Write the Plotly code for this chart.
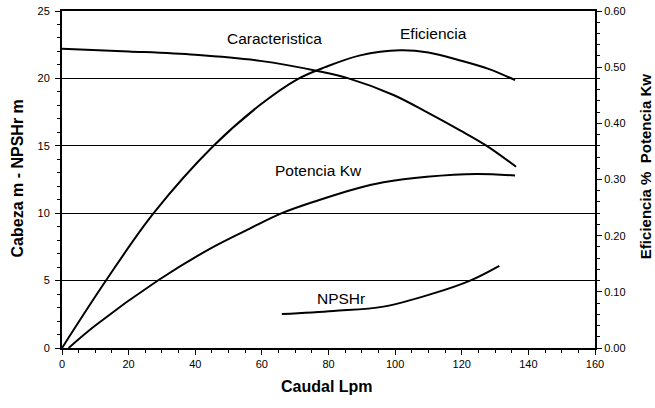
import plotly.graph_objects as go

# Data
caudal_head = [0, 20, 40, 59.5, 76.7, 86, 99.5, 109.5, 119.5, 127.5, 136.3]
cabeza = [22.2, 22.0, 21.75, 21.3, 20.55, 20.0, 18.77, 17.5, 16.15, 15.0, 13.45]

caudal_eff = [0, 13.3, 27.5, 45.5, 59.5, 70.5, 79, 89.5, 101.5, 110, 119.5, 128, 136]
eficiencia = [0, 0.121, 0.24, 0.36, 0.433, 0.478, 0.5, 0.521, 0.530, 0.526, 0.512, 0.497, 0.477]

caudal_pot = [2, 10, 29, 44.5, 56.5, 66, 77, 88.5, 96.5, 109.5, 124.5, 136]
potencia = [0, 0.04, 0.121, 0.177, 0.213, 0.24, 0.263, 0.284, 0.295, 0.305, 0.310, 0.307]

caudal_npsh = [66, 81.5, 96.5, 111.5, 122.5, 131.3]
npshr = [2.52, 2.75, 3.07, 4.05, 5.0, 6.1]

labels = ["Caracteristica", "Eficiencia", "Potencia Kw", "NPSHr"]
label_x = [63.7, 111.4, 76.9, 83.7]
label_y = [22.96, 23.3, 13.2, 3.68]

FONT = "Liberation Sans, Arial, sans-serif"
line = dict(color="black", width=2, shape="spline", smoothing=1)

fig = go.Figure()
fig.add_trace(go.Scatter(x=caudal_head, y=cabeza, mode="lines", line=line, hoverinfo="skip"))
fig.add_trace(go.Scatter(x=caudal_npsh, y=npshr, mode="lines", line=line, hoverinfo="skip"))
fig.add_trace(go.Scatter(x=caudal_eff, y=eficiencia, mode="lines", line=line, yaxis="y2", hoverinfo="skip"))
fig.add_trace(go.Scatter(x=caudal_pot, y=potencia, mode="lines", line=line, yaxis="y2", hoverinfo="skip"))

for t, x, y in zip(labels, label_x, label_y):
    fig.add_annotation(x=x, y=y, xref="x", yref="y", text=t, showarrow=False,
                       font=dict(family=FONT, size=15.5, color="black"))

# Axis titles
fig.add_annotation(x=0.497, y=-0.113, xref="paper", yref="paper", text="<b>Caudal Lpm</b>",
                   showarrow=False, xanchor="center", yanchor="middle",
                   font=dict(family=FONT, size=16, color="black"))
fig.add_annotation(x=-0.0826, y=0.503, xref="paper", yref="paper", text="<b>Cabeza m - NPSHr m</b>",
                   textangle=-90, showarrow=False, xanchor="center", yanchor="middle",
                   font=dict(family=FONT, size=16, color="black"))
fig.add_annotation(x=1.094, y=0.537, xref="paper", yref="paper", text="<b>Eficiencia %  Potencia Kw</b>",
                   textangle=-90, showarrow=False, xanchor="center", yanchor="middle",
                   font=dict(family=FONT, size=15, color="black"))

fig.update_layout(
    width=655, height=408,
    margin=dict(l=62, r=60, t=11, b=60, autoexpand=False),
    paper_bgcolor="white", plot_bgcolor="white",
    showlegend=False,
    font=dict(family=FONT, size=11, color="black"),
    xaxis=dict(range=[0, 160], dtick=20, tick0=0, showgrid=False, zeroline=False, automargin=False,
               showline=True, linecolor="black", linewidth=2, mirror=True,
               ticks="outside", ticklen=5, tickcolor="black", tickwidth=1,
               minor=dict(dtick=5, ticks="outside", ticklen=3, tickcolor="black")),
    yaxis=dict(range=[0, 25], dtick=5, showgrid=True, gridcolor="black", gridwidth=1,
               zeroline=False, showline=True, linecolor="black", linewidth=2, automargin=False,
               ticks="outside", ticklen=5, tickcolor="black", ticklabelstandoff=3,
               minor=dict(dtick=1, ticks="outside", ticklen=3, tickcolor="black", showgrid=False)),
    yaxis2=dict(range=[0, 0.6], dtick=0.1, tickformat=".2f", overlaying="y", side="right",
                showgrid=False, zeroline=False, showline=True, linecolor="black", linewidth=2,
                automargin=False,
                ticks="outside", ticklen=5, tickcolor="black",
                minor=dict(dtick=0.02, ticks="outside", ticklen=3, tickcolor="black")),
)

fig.write_html("out.html", config={"displayModeBar": False},
               post_script="document.body.style.margin='0px';")
